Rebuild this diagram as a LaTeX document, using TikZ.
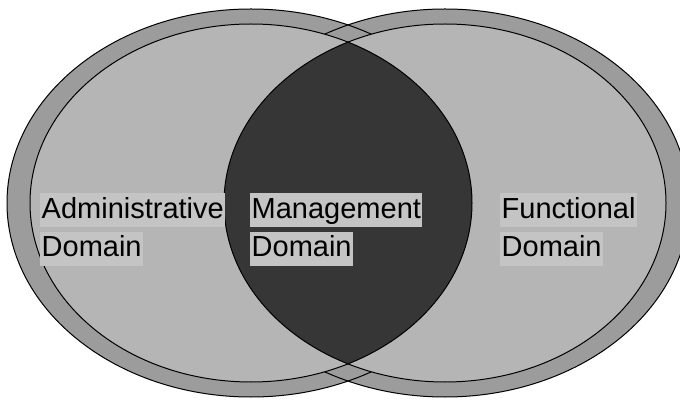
\documentclass[tikz,border=0pt]{standalone}
\usepackage{fontspec}
\setmainfont{Liberation Sans}
\usetikzlibrary{positioning}
\definecolor{ringgray}{gray}{0.61}
\definecolor{fillgray}{gray}{0.71}
\definecolor{labelgray}{gray}{0.77}
\definecolor{lensgray}{gray}{0.21}

\begin{document}
\begin{tikzpicture}[x=1pt,y=1pt,
    outline/.style={draw=black,line width=1pt},
    lbl/.style={fill=labelgray,font=\fontsize{29}{34}\selectfont,inner xsep=1.5pt,inner ysep=2pt,text height=23pt,text depth=7pt,anchor=north west}]
    \useasboundingbox (0,0) rectangle (680,399);

    % outer rings
    \fill[ringgray] (251,196) ellipse [x radius=244,y radius=194];
    \fill[ringgray] (445,196) ellipse [x radius=244,y radius=194];
    \path[outline] (251,196) ellipse [x radius=244,y radius=194];
    \path[outline] (445,196) ellipse [x radius=244,y radius=194];

    % inner domains
    \fill[fillgray] (251,196) ellipse [x radius=221,y radius=179];
    \fill[fillgray] (445,196) ellipse [x radius=221,y radius=179];
    \begin{scope}
      \clip (251,196) ellipse [x radius=221,y radius=179];
      \fill[lensgray] (445,196) ellipse [x radius=221,y radius=179];
    \end{scope}
    \path[outline] (251,196) ellipse [x radius=221,y radius=179];
    \path[outline] (445,196) ellipse [x radius=221,y radius=179];

    \node[lbl] (adm) at (40,206) {Administrative};
    \node[lbl, below=4pt of adm.south west, anchor=north west] (admdom) {Domain};
    \node[lbl] (mgmt) at (250,206) {Management};
    \node[lbl, below=4pt of mgmt.south west, anchor=north west] (mgmtdom) {Domain};
    \node[lbl] (func) at (500,206) {Functional};
    \node[lbl, below=4pt of func.south west, anchor=north west] (funcdom) {Domain};
\end{tikzpicture}
\end{document}
